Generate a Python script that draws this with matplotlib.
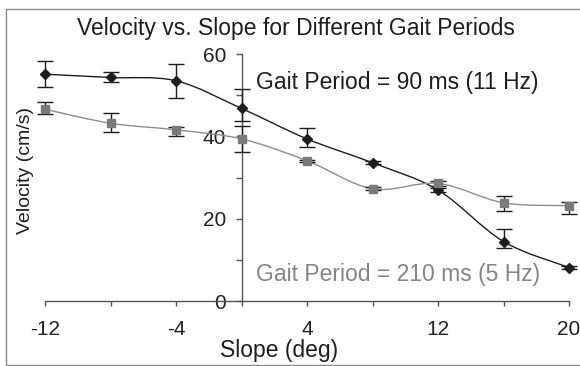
import numpy as np
import matplotlib
matplotlib.use("Agg")
import matplotlib.pyplot as plt
from matplotlib.path import Path
from matplotlib.patches import PathPatch, Rectangle
from matplotlib.ticker import MultipleLocator, FixedLocator

plt.rcParams['font.family'] = ['Liberation Sans', 'DejaVu Sans']
plt.rcParams['axes.unicode_minus'] = False

slope = [-12, -8, -4, 0, 4, 8, 12, 16, 20]

# gait period 90 ms (11 Hz)
vel_90 = [55.1, 54.3, 53.5, 46.8, 39.4, 33.6, 27.0, 14.5, 8.2]
err_90_lo = [3.0, 1.1, 4.1, 3.0, 1.9, 0.4, 0.6, 1.5, 0.4]
err_90_hi = [3.3, 1.4, 4.0, 4.6, 2.6, 0.4, 0.6, 3.0, 0.4]

# gait period 210 ms (5 Hz)
vel_210 = [46.6, 43.2, 41.6, 39.4, 34.1, 27.3, 28.6, 23.9, 23.2]
err_210_lo = [1.2, 2.1, 1.5, 3.1, 0.3, 0.4, 0.6, 2.0, 1.9]
err_210_hi = [1.8, 2.4, 0.8, 3.1, 0.3, 0.4, 0.6, 1.7, 1.0]

label_90 = "Gait Period = 90 ms (11 Hz)"
label_210 = "Gait Period = 210 ms (5 Hz)"

BLACK = "#1e1e1e"
GRAY = "#858585"


def smooth_path(x, y):
    # excel style smoothed line, cubic bezier through the data points
    n = len(x)
    verts = [(x[0], y[0])]
    codes = [Path.MOVETO]
    for i in range(n - 1):
        xa, ya = (x[i - 1], y[i - 1]) if i > 0 else (x[i], y[i])
        xb, yb = (x[i + 2], y[i + 2]) if i + 2 < n else (x[i + 1], y[i + 1])
        c1 = (x[i] + (x[i + 1] - xa) / 6.0, y[i] + (y[i + 1] - ya) / 6.0)
        c2 = (x[i + 1] - (xb - x[i]) / 6.0, y[i + 1] - (yb - y[i]) / 6.0)
        verts += [c1, c2, (x[i + 1], y[i + 1])]
        codes += [Path.CURVE4] * 3
    return Path(verts, codes)


fig = plt.figure(figsize=(5.8, 3.66), dpi=100)
ax = fig.add_axes([45 / 580, 1 - 301.3 / 366, 524 / 580, 247.3 / 366])

# outer frame
fig.patches.append(Rectangle((6 / 580, 1 / 366), 1.0, 356 / 366, transform=fig.transFigure,
                             fill=False, edgecolor="#8a8a8a", lw=1.0))

ax.add_patch(PathPatch(smooth_path(slope, vel_90), fill=False, edgecolor=BLACK, lw=1.0,
                       clip_on=False, zorder=3))
ax.errorbar(slope, vel_90, yerr=[err_90_lo, err_90_hi], fmt="D", color=BLACK, ms=5,
            ecolor=BLACK, elinewidth=1.0, capsize=5.5, capthick=1.0, clip_on=False, zorder=4)

ax.add_patch(PathPatch(smooth_path(slope, vel_210), fill=False, edgecolor="#8e8e8e", lw=1.0,
                       clip_on=False, zorder=5))
ax.errorbar(slope, vel_210, yerr=[err_210_lo, err_210_hi], fmt="s", color="#7a7a7a", ms=6,
            ecolor=BLACK, elinewidth=1.0, capsize=5.5, capthick=1.0, clip_on=False, zorder=6)

ax.set_xlim(-12, 20)
ax.set_ylim(0, 60)

for s in ["top", "right"]:
    ax.spines[s].set_visible(False)
ax.spines["left"].set_position(("data", 0))
for s in ["left", "bottom"]:
    ax.spines[s].set_color("#555555")
    ax.spines[s].set_linewidth(1.0)

ax.xaxis.set_major_locator(FixedLocator([-12, -4, 4, 12, 20]))
ax.xaxis.set_minor_locator(FixedLocator([-8, 0, 8, 16]))
ax.yaxis.set_major_locator(MultipleLocator(20))
ax.yaxis.set_minor_locator(FixedLocator([10, 30, 50]))
ax.tick_params(axis="x", which="both", direction="out", length=3.5, width=1.0,
               color="#555555", labelsize=15, pad=10, labelcolor="#222222")
ax.tick_params(axis="y", which="both", direction="out", length=4, width=1.0,
               color="#555555", labelsize=15, pad=7, labelcolor="#222222")

ax.text(0.9, 51.4, label_90, fontsize=16.5, color=BLACK, ha="left", va="baseline")
ax.text(0.9, 4.9, label_210, fontsize=16.5, color=GRAY, ha="left", va="baseline")

fig.text(296 / 580, 1 - 28 / 366, "Velocity vs. Slope for Different Gait Periods",
         fontsize=16.5, color=BLACK, ha="center", va="center")
fig.text(279 / 580, 1 - 350 / 366, "Slope (deg)", fontsize=16.5, color=BLACK,
         ha="center", va="center")
fig.text(26 / 580, 1 - 170 / 366, "Velocity (cm/s)", fontsize=14, color=BLACK,
         ha="center", va="center", rotation=90)

fig.savefig("out.png", dpi=100)
